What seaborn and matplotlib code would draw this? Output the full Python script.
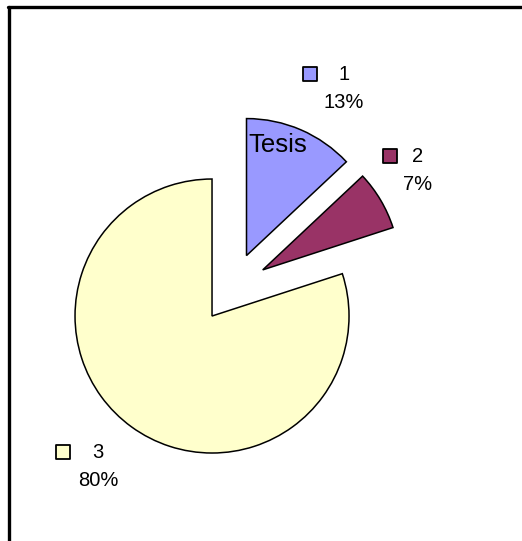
import matplotlib
matplotlib.use("Agg")
import matplotlib.pyplot as plt
import seaborn as sns
from matplotlib.lines import Line2D

sns.set_theme(style="white")
plt.rcParams['font.family'] = ['Liberation Sans', 'DejaVu Sans']

# data
categories = ['1', '2', '3']
percentages = [13, 7, 80]
colors = ['#9999FF', '#993366', '#FFFFCC']

W, H = 522, 541
fig = plt.figure(figsize=(W / 100, H / 100), dpi=100)
ax = fig.add_axes([0, 0, 1, 1])

# pie geometry in pixel units (y measured upward)
cx, cy = 232.6, H - 287.7
radius = 137
explode_px = 35

wedges, _ = ax.pie(percentages, colors=colors, startangle=90, counterclock=False,
                   center=(cx, cy), radius=radius, explode=[explode_px] * len(percentages),
                   wedgeprops=dict(edgecolor='black', linewidth=1.1))

ax.set_xlim(0, W)
ax.set_ylim(0, H)
ax.set_aspect('equal')
ax.axis('off')

# data labels: legend key + category + percent (anchor positions in image px)
label_pos = [(344, 88), (418, 170), (98, 466)]
key_dx = [-34, -28, -35]
for cat, pct, col, (lx, ly), dx in zip(categories, percentages, colors, label_pos, key_dx):
    y = H - ly
    ax.text(lx, y + 14, cat, ha='center', va='center', fontsize=14.5, color='black')
    ax.text(lx, y - 14, f"{pct}%", ha='center', va='center', fontsize=14.5, color='black')
    ax.scatter([lx + dx], [y + 14], marker='s', s=95, color=col, edgecolor='black',
               linewidth=1.3, zorder=5)

ax.text(248, H - 145, 'Tesis', ha='left', va='center', fontsize=18.5, color='black')

# chart border (top and left edges)
fig.add_artist(Line2D([8 / W, 1], [1 - 6.5 / H, 1 - 6.5 / H], color='black', linewidth=2.4))
fig.add_artist(Line2D([8.5 / W, 8.5 / W], [0, 1 - 6.5 / H], color='black', linewidth=2.4))

fig.savefig('out.png', dpi=100, facecolor='white')
